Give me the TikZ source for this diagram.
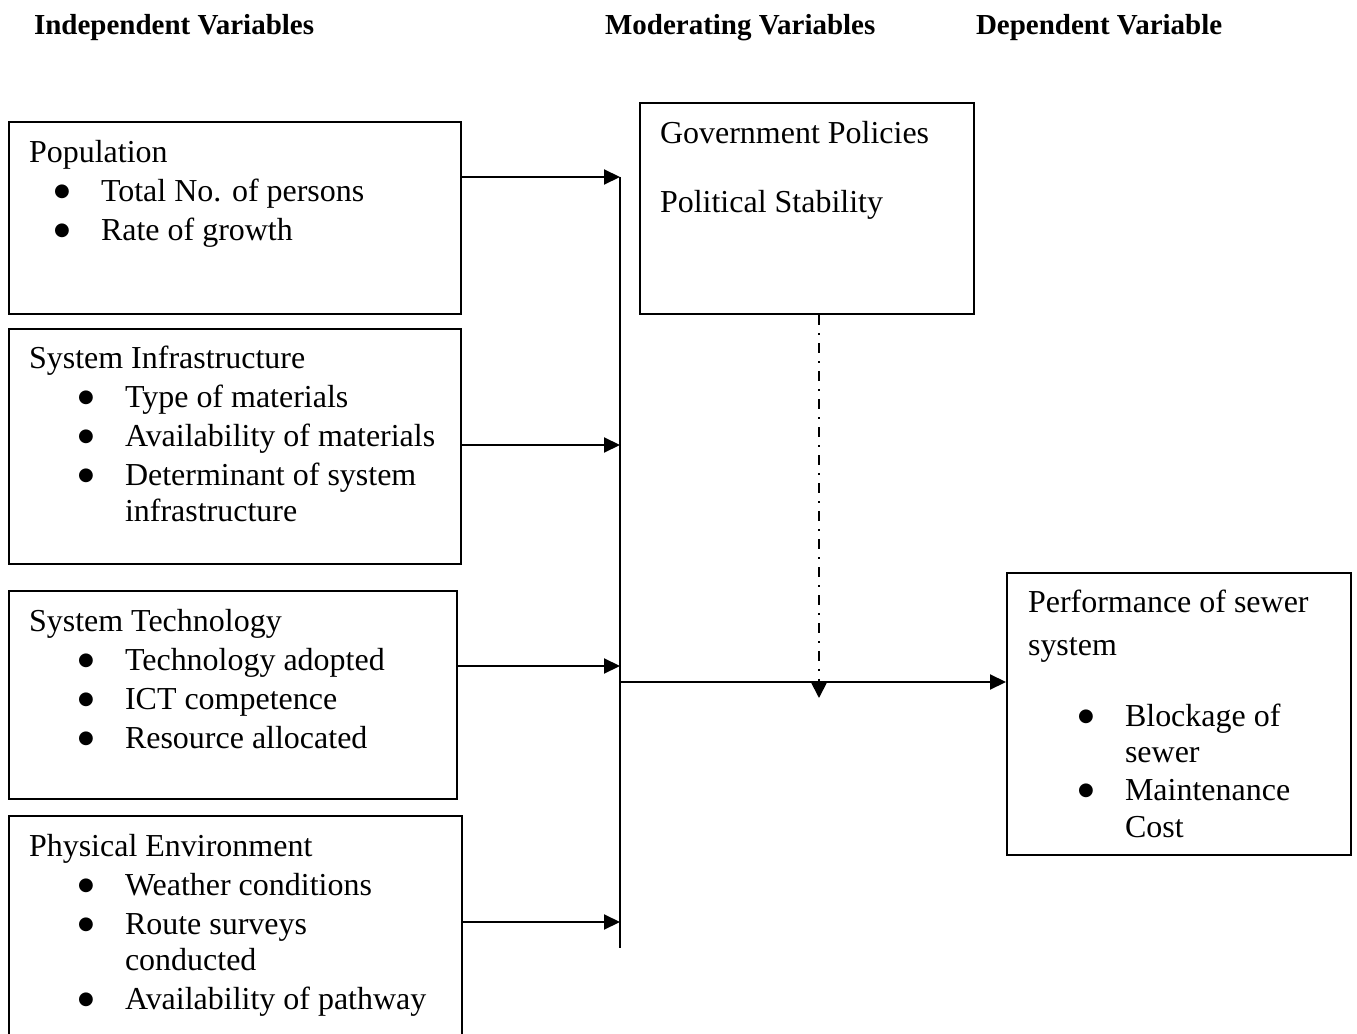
\documentclass[tikz,border=0pt]{standalone}
\usepackage{fontspec}
\setmainfont{Liberation Serif}
\newfontfamily\dejavu{DejaVu Sans}
\usetikzlibrary{arrows.meta}

\newcommand{\bul}[2]{\hspace*{#1}\makebox[#2][l]{\raisebox{0.1cm}{\dejavu\fontsize{10.3}{12}\selectfont ●}}}

\begin{document}
\begin{tikzpicture}[x=0.02cm, y=-0.02cm, every path/.style={very thick},
  box/.style={draw, anchor=north west, inner sep=0pt},
  txt/.style={anchor=north west, inner sep=0pt, align=left, font=\fontsize{18.2}{20.8}\selectfont},
  head/.style={anchor=base west, inner sep=0pt, font=\fontsize{16.5}{20}\selectfont\bfseries}]
\useasboundingbox (0,0) rectangle (1357,1034);

\node[head] (h1) at (33,35) {Independent Variables};
\node[head] (h2) at (604,35) {Moderating Variables};
\node[head] (h3) at (975,35) {Dependent Variable};

\node[box, minimum width=9.04cm, minimum height=3.84cm] (iv1) at (8,121) {};
\node[box, minimum width=9.04cm, minimum height=4.70cm] (iv2) at (8,328) {};
\node[box, minimum width=8.96cm, minimum height=4.16cm] (iv3) at (8,590) {};
\node[box, minimum width=9.06cm, minimum height=5.20cm] (iv4) at (8,815) {};
\node[box, minimum width=6.68cm, minimum height=4.22cm] (mv) at (639,102) {};
\node[box, minimum width=6.88cm, minimum height=5.64cm] (dv) at (1006,572) {};

\node[txt] (iv1t) at (28,135.4) {\strut Population\\[0.05cm]
  \bul{0.5cm}{0.94cm}Total No. of persons\\[0.05cm]
  \bul{0.5cm}{0.94cm}Rate of growth};
\node[txt] (iv2t) at (28,341.4) {\strut System Infrastructure\\[0.05cm]
  \bul{0.98cm}{0.94cm}Type of materials\\[0.05cm]
  \bul{0.98cm}{0.94cm}Availability of materials\\[0.05cm]
  \bul{0.98cm}{0.94cm}Determinant of system\\
  \hspace*{1.92cm}infrastructure};
\node[txt] (iv3t) at (28,604.4) {\strut System Technology\\[0.05cm]
  \bul{0.98cm}{0.94cm}Technology adopted\\[0.05cm]
  \bul{0.98cm}{0.94cm}ICT competence\\[0.05cm]
  \bul{0.98cm}{0.94cm}Resource allocated};
\node[txt] (iv4t) at (28,829.4) {\strut Physical Environment\\[0.05cm]
  \bul{0.98cm}{0.94cm}Weather conditions\\[0.05cm]
  \bul{0.98cm}{0.94cm}Route surveys\\
  \hspace*{1.92cm}conducted\\[0.05cm]
  \bul{0.98cm}{0.94cm}Availability of pathway};
\node[txt] (mvt) at (659,116.4) {\strut Government Policies\\[0.65cm]
  Political Stability};
\node[txt] (dvt) at (1027,585.4) {\strut Performance of sewer\\[0.13cm]
  system\\[0.69cm]
  \bul{1cm}{0.94cm}Blockage of\\
  \hspace*{1.94cm}sewer\\[0.03cm]
  \bul{1cm}{0.94cm}Maintenance\\
  \hspace*{1.94cm}Cost};

\coordinate (b1) at (620,177);
\coordinate (b2) at (620,445);
\coordinate (b3) at (620,666);
\coordinate (b4) at (620,922);
\coordinate (bend) at (620,948);
\coordinate (hub) at (620,682);
\coordinate (tip) at (819,698);

\draw (b1) -- (bend);
\draw[-{Triangle[length=0.32cm, width=0.3cm]}] (iv1.east |- b1) -- (b1);
\draw[-{Triangle[length=0.32cm, width=0.3cm]}] (iv2.east |- b2) -- (b2);
\draw[-{Triangle[length=0.32cm, width=0.3cm]}] (iv3.east |- b3) -- (b3);
\draw[-{Triangle[length=0.32cm, width=0.3cm]}] (iv4.east |- b4) -- (b4);
\draw[-{Triangle[length=0.32cm, width=0.3cm]}] (hub) -- (dv.west |- hub);
\draw[line width=1pt, dash pattern=on 0.2cm off 0.16cm on 0.04cm off 0.16cm, -{Triangle[length=0.3cm, width=0.3cm]}] (tip |- mv.south) -- (tip);
\end{tikzpicture}
\end{document}
